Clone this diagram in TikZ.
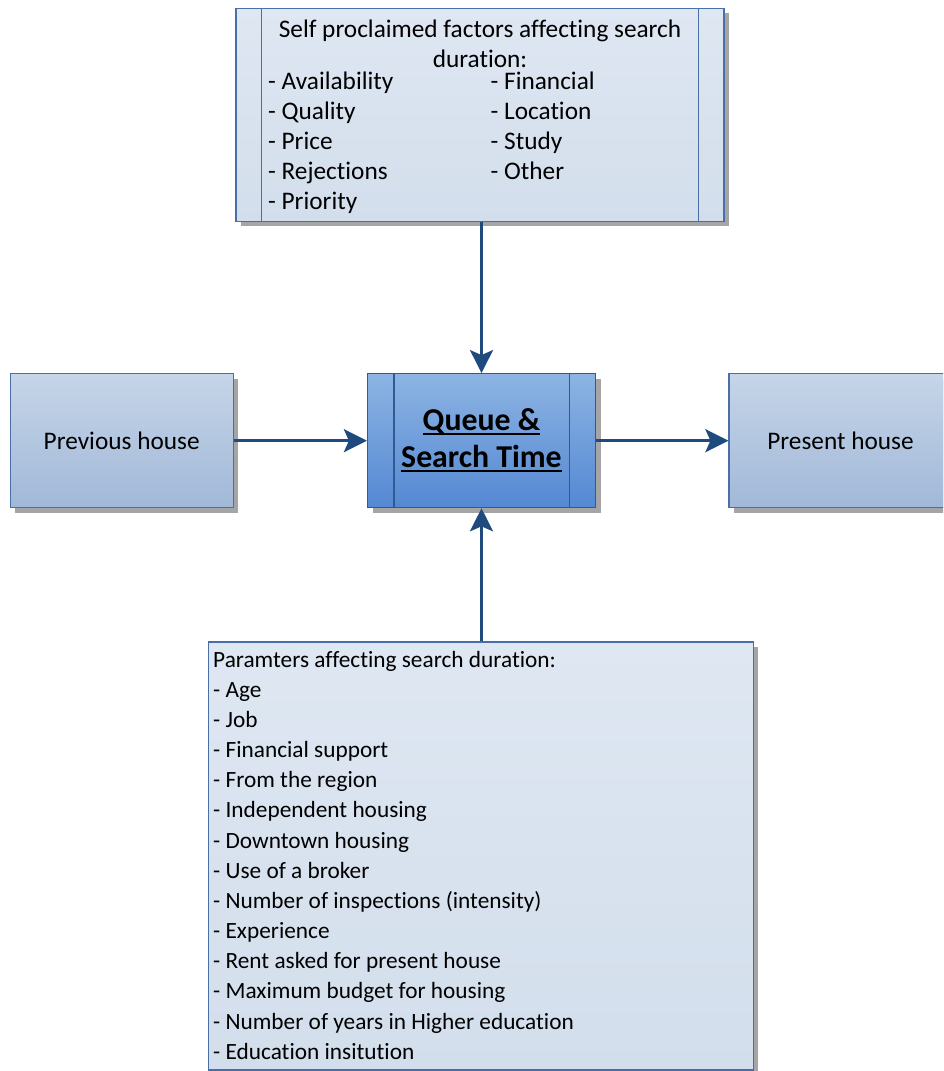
\documentclass[tikz,border=0pt]{standalone}
\usepackage{fontspec}
\setmainfont{Carlito}[Ligatures=NoCommon]
\usetikzlibrary{arrows.meta,shadows}
\definecolor{flowblue}{HTML}{1F4A7E}
\definecolor{boxline}{HTML}{4A6EA8}
\definecolor{queueline}{HTML}{2F5A94}
\definecolor{houselight}{HTML}{C6D5E8}
\definecolor{housedark}{HTML}{A1B8D8}
\definecolor{listlight}{HTML}{DEE7F2}
\definecolor{listdark}{HTML}{D3DEEC}
\definecolor{queuelight}{HTML}{8DB4E3}
\definecolor{queuedark}{HTML}{5488D3}
\definecolor{shadowgray}{HTML}{A5A5A5}
\newcommand{\qline}[1]{\setbox0\hbox{#1}\rlap{\rule[-4.5pt]{\wd0}{2pt}}\box0}
\tikzstyle{boxbase} = [rectangle, draw=boxline, line width=1.2pt, inner sep=0pt,
    drop shadow={shadow xshift=5pt, shadow yshift=-5pt, fill=shadowgray, opacity=1}]
\tikzstyle{house} = [boxbase, top color=houselight, bottom color=housedark,
    minimum width=223pt, minimum height=134pt, font=\fontsize{25.3}{30}\selectfont]
\tikzstyle{listbox} = [boxbase, top color=listlight, bottom color=listdark]
\tikzstyle{queue} = [boxbase, draw=queueline, top color=queuelight, bottom color=queuedark,
    minimum width=228pt, minimum height=134pt, align=center,
    font=\fontsize{31.8}{37}\selectfont\bfseries]
\tikzstyle{toptext} = [inner sep=0pt, anchor=north west, font=\fontsize{25.3}{30}\selectfont]
\tikzstyle{bottext} = [inner sep=0pt, anchor=north west, font=\fontsize{23.3}{30.15}\selectfont]
\tikzstyle{sideline} = [draw=boxline, line width=1.2pt]
\tikzstyle{flow} = [draw=flowblue, line width=3pt, -{Stealth[length=23pt,width=23pt,inset=5pt]}]

\begin{document}
\begin{tikzpicture}[x=1pt,y=1pt]
  \useasboundingbox (0,0) rectangle (943,1071);
  \clip (0,0) rectangle (943,1071);

  % boxes
  \node[listbox, minimum width=488pt, minimum height=213pt] (factors) at (480,956) {};
  \node[queue]  (queue)   at (481.5,630.3) {\qline{Queue \&}\\\qline{Search Time}};
  \node[house]  (prev)    at (121.7,630.3) {Previous house};
  \node[house]  (present) at (840.5,630.3) {Present house};
  \node[listbox, minimum width=545pt, minimum height=428pt] (params) at (480.8,215) {};

  % side bars
  \draw[sideline] ([xshift=26pt]factors.north west) -- ([xshift=26pt]factors.south west);
  \draw[sideline] ([xshift=-26pt]factors.north east) -- ([xshift=-26pt]factors.south east);
  \draw[sideline,draw=queueline] ([xshift=27pt]queue.north west) -- ([xshift=27pt]queue.south west);
  \draw[sideline,draw=queueline] ([xshift=-27pt]queue.north east) -- ([xshift=-27pt]queue.south east);

  % texts
  \node[toptext, anchor=north] (factorshead) at (480,1055)
    {\begin{tabular}{@{}c@{}}Self proclaimed factors affecting search\\duration:\end{tabular}};
  \node[toptext] (factorsleft) at (268,1003)
    {\begin{tabular}{@{}l@{}}- Availability\\- Quality\\- Price\\- Rejections\\- Priority\end{tabular}};
  \node[toptext] (factorsright) at (490.5,1003)
    {\begin{tabular}{@{}l@{}}- Financial\\- Location\\- Study\\- Other\end{tabular}};
  \node[bottext] (paramslist) at (213,425.1)
    {\begin{tabular}{@{}l@{}}Paramters affecting search duration:\\
     - Age\\- Job\\- Financial support\\- From the region\\- Independent housing\\
     - Downtown housing\\- Use of a broker\\- Number of inspections (intensity)\\
     - Experience\\- Rent asked for present house\\- Maximum budget for housing\\
     - Number of years in Higher education\\- Education insitution\end{tabular}};

  % connectors
  \path
  (queue.north |- factors.south) edge[flow] (queue.north)
  (queue.south |- params.north) edge[flow] (queue.south)
  (prev.east) edge[flow] (queue.west)
  (queue.east) edge[flow] (present.west);
\end{tikzpicture}
\end{document}
